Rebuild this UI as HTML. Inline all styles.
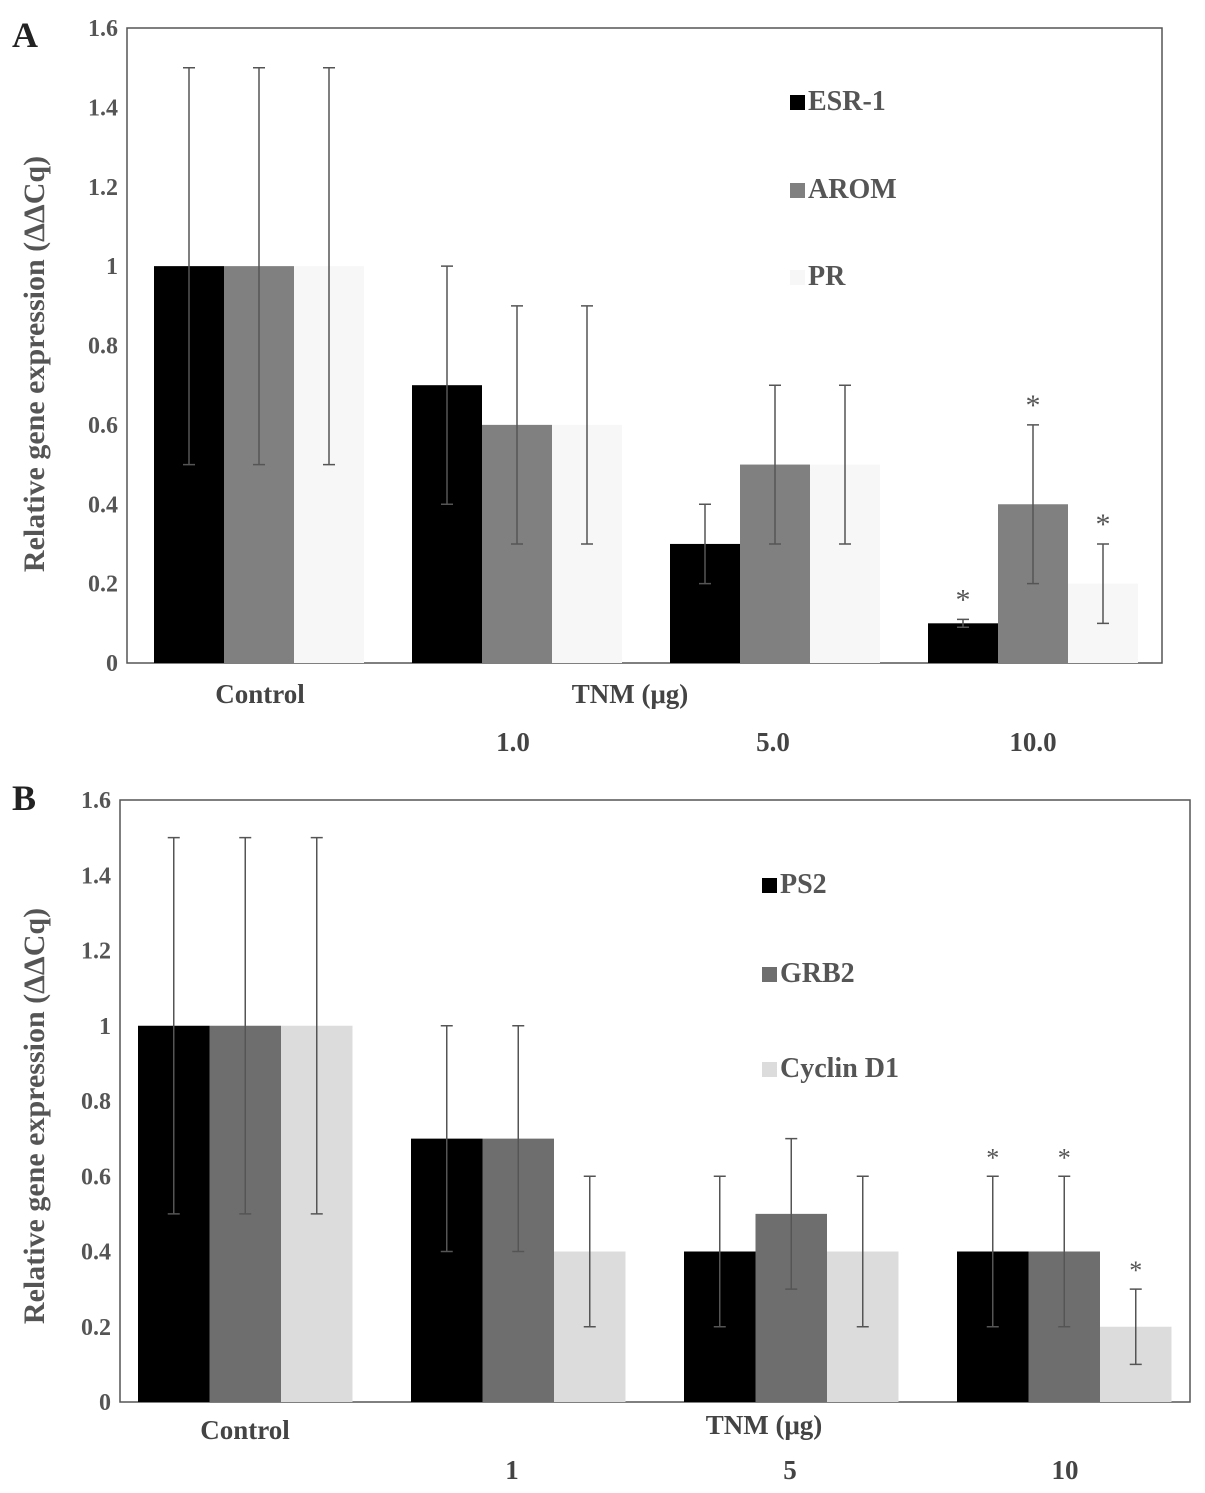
<!DOCTYPE html>
<html><head><meta charset="utf-8">
<style>
body{margin:0;background:#fff;}
svg{display:block;font-family:"Liberation Serif",serif;}
</style></head>
<body>
<svg id="chart" width="1205" height="1493" viewBox="0 0 1205 1493" xmlns="http://www.w3.org/2000/svg"></svg>
<script>
const catsA = ["Control","1.0","5.0","10.0"];
const seriesNamesA = ["ESR-1","AROM","PR"];
const esrVals = [1,0.7,0.3,0.1];
const aromVals = [1,0.6,0.5,0.4];
const prVals = [1,0.6,0.5,0.2];
const esrErrLo = [0.5,0.4,0.2,0.09], esrErrHi = [1.5,1.0,0.4,0.11];
const aromErrLo = [0.5,0.3,0.3,0.2], aromErrHi = [1.5,0.9,0.7,0.6];
const prErrLo = [0.5,0.3,0.3,0.1], prErrHi = [1.5,0.9,0.7,0.3];
const starsA = [[false,false,false],[false,false,false],[false,false,false],[true,true,true]];

const catsB = ["Control","1","5","10"];
const seriesNamesB = ["PS2","GRB2","Cyclin D1"];
const ps2Vals = [1,0.7,0.4,0.4];
const grb2Vals = [1,0.7,0.5,0.4];
const cycVals = [1,0.4,0.4,0.2];
const ps2ErrLo = [0.5,0.4,0.2,0.2], ps2ErrHi = [1.5,1.0,0.6,0.6];
const grb2ErrLo = [0.5,0.4,0.3,0.2], grb2ErrHi = [1.5,1.0,0.7,0.6];
const cycErrLo = [0.5,0.2,0.2,0.1], cycErrHi = [1.5,0.6,0.6,0.3];
const starsB = [[false,false,false],[false,false,false],[false,false,false],[true,true,true]];

const yTicks = [0,0.2,0.4,0.6,0.8,1,1.2,1.4,1.6];
const yTickLabels = ["0","0.2","0.4","0.6","0.8","1","1.2","1.4","1.6"];

const NS="http://www.w3.org/2000/svg";
const svg=document.getElementById('chart');
function mk(tag,attrs,parent){const e=document.createElementNS(NS,tag);for(const k in attrs)e.setAttribute(k,attrs[k]);(parent||svg).appendChild(e);return e;}

function panel(cfg){
  const g=mk('g',{});
  
  
  const y=v=>cfg.y0-(v/1.6)*(cfg.y0-cfg.y1);
  const bandW=cfg.band;
  const frame=mk('rect',{x:cfg.x0,y:cfg.y1,width:cfg.x1-cfg.x0,height:cfg.y0-cfg.y1,fill:'none',stroke:'#555','stroke-width':1.5},g);
  
  
  yTicks.forEach((t,i)=>{
    const tx=mk('text',{x:cfg.x0-9,y:y(t)+8,'text-anchor':'end','font-size':24,'font-weight':'bold',fill:'#555'},g);
    tx.textContent=yTickLabels[i];
    
    
  });
  cfg.series.forEach((s,si)=>{
    cfg.cats.forEach((c,ci)=>{
      const bx=cfg.x0+ci*bandW+cfg.off+si*cfg.bw;
      const r=mk('rect',{x:bx,y:y(s.vals[ci]),width:cfg.bw,height:cfg.y0-y(s.vals[ci]),fill:s.color},g);
      
      
      const cx=bx+cfg.bw/2;
      const e=mk('path',{d:`M${cx},${y(s.lo[ci])}V${y(s.hi[ci])}M${cx-6},${y(s.lo[ci])}H${cx+6}M${cx-6},${y(s.hi[ci])}H${cx+6}`,stroke:'#555','stroke-width':1.5,fill:'none'},g);
      
      
      if(cfg.stars[ci][si]){
        const st=mk('text',{x:cx,y:y(s.hi[ci])-cfg.starGap,'text-anchor':'middle','font-size':cfg.starSize,fill:'#555'},g);
        st.textContent='*';
        
        
      }
    });
  });
  const yt=mk('text',{transform:`translate(${cfg.ytx},${cfg.ytY}) rotate(-90)`,'text-anchor':'middle','font-size':30,'font-weight':'bold',fill:'#555'},g);
  yt.textContent='Relative gene expression (ΔΔCq)';
  
  
  cfg.series.forEach((s,si)=>{
    const ly=cfg.legY[si];
    const sq=mk('rect',{x:cfg.legX,y:ly-15,width:15,height:15,fill:s.color},g);
    
    
    const lt=mk('text',{x:cfg.legX+18,y:ly,'font-size':28,'font-weight':'bold',fill:'#555'},g);
    lt.textContent=s.label;
    
    
  });
  cfg.labels.forEach(l=>{
    const t=mk('text',{x:l[1],y:l[2],'text-anchor':'middle','font-size':27,'font-weight':'bold',fill:'#444'},g);
    t.textContent=l[0];
    
    
  });
  const pl=mk('text',{x:12,y:cfg.letterY,'font-size':36,'font-weight':'bold',fill:'#222'},g);
  pl.textContent=cfg.letter;
  
  
}

panel({name:'panel-a',letter:'A',letterY:47,x0:127,x1:1162,y0:663,y1:28,band:258,off:27,bw:70,ytx:44,ytY:364,starSize:30,starGap:10,
  cats:catsA,stars:starsA,legX:790,legY:[110,198,285],
  series:[
    {key:'esr1',label:seriesNamesA[0],color:'#000',vals:esrVals,lo:esrErrLo,hi:esrErrHi},
    {key:'arom',label:seriesNamesA[1],color:'#808080',vals:aromVals,lo:aromErrLo,hi:aromErrHi},
    {key:'pr',label:seriesNamesA[2],color:'#f7f7f7',vals:prVals,lo:prErrLo,hi:prErrHi}],
  labels:[[catsA[0],260,703],['TNM (μg)',630,703],[catsA[1],513,751],[catsA[2],773,751],[catsA[3],1033,751]]});

panel({name:'panel-b',letter:'B',letterY:810,x0:120,x1:1190,y0:1402,y1:800,band:273,off:18,bw:71.5,ytx:44,ytY:1116,starSize:26,starGap:10,
  cats:catsB,stars:starsB,legX:762,legY:[893,982,1077],
  series:[
    {key:'ps2',label:seriesNamesB[0],color:'#000',vals:ps2Vals,lo:ps2ErrLo,hi:ps2ErrHi},
    {key:'grb2',label:seriesNamesB[1],color:'#6e6e6e',vals:grb2Vals,lo:grb2ErrLo,hi:grb2ErrHi},
    {key:'cyclin-d1',label:seriesNamesB[2],color:'#dcdcdc',vals:cycVals,lo:cycErrLo,hi:cycErrHi}],
  labels:[[catsB[0],245,1439],['TNM (μg)',764,1434],[catsB[1],512,1479],[catsB[2],790,1479],[catsB[3],1065,1479]]});
</script>
</body></html>
